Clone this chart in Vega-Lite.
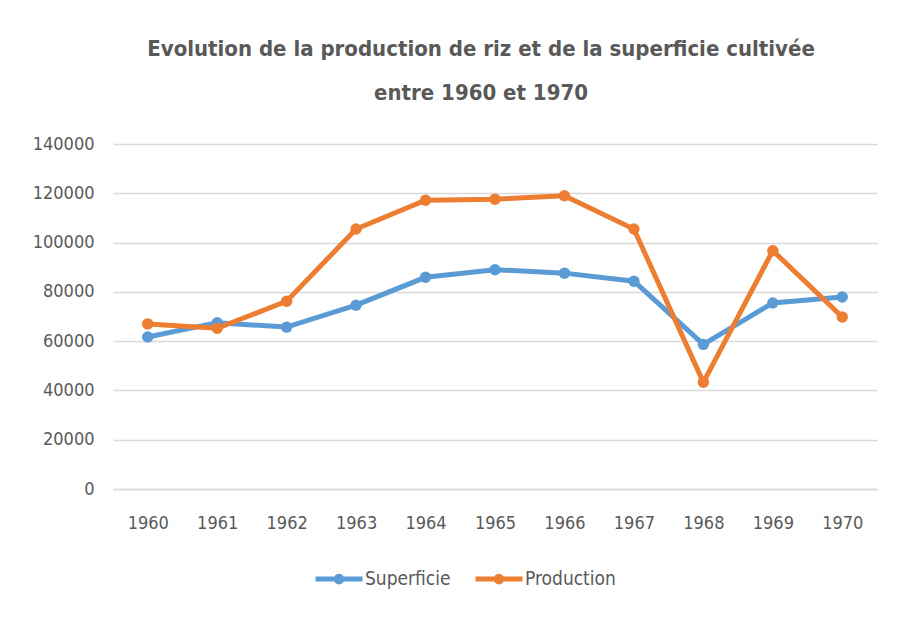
{
  "$schema": "https://vega.github.io/schema/vega-lite/v6.json",
  "width": 764,
  "height": 345,
  "autosize": {"type": "none"},
  "padding": {"left": 113, "top": 144, "right": 20, "bottom": 131},
  "background": "white",
  "title": {
    "text": ["Evolution de la production de riz et de la superficie cultivée", "entre 1960 et 1970"],
    "font": "Liberation Sans Narrow, DejaVu Sans Condensed, Roboto",
    "fontSize": 22,
    "fontWeight": "bold",
    "color": "#595959",
    "lineHeight": 44,
    "anchor": "middle",
    "baseline": "alphabetic",
    "offset": 13,
    "dx": -14
  },
  "data": {
    "values": [
      {"year": "1960", "serie": "Superficie", "value": 61700},
      {"year": "1961", "serie": "Superficie", "value": 67500},
      {"year": "1962", "serie": "Superficie", "value": 65700},
      {"year": "1963", "serie": "Superficie", "value": 74600},
      {"year": "1964", "serie": "Superficie", "value": 85900},
      {"year": "1965", "serie": "Superficie", "value": 89000},
      {"year": "1966", "serie": "Superficie", "value": 87600},
      {"year": "1967", "serie": "Superficie", "value": 84300},
      {"year": "1968", "serie": "Superficie", "value": 58700},
      {"year": "1969", "serie": "Superficie", "value": 75500},
      {"year": "1970", "serie": "Superficie", "value": 77900},
      {"year": "1960", "serie": "Production", "value": 67000},
      {"year": "1961", "serie": "Production", "value": 65200},
      {"year": "1962", "serie": "Production", "value": 76200},
      {"year": "1963", "serie": "Production", "value": 105500},
      {"year": "1964", "serie": "Production", "value": 117200},
      {"year": "1965", "serie": "Production", "value": 117600},
      {"year": "1966", "serie": "Production", "value": 119000},
      {"year": "1967", "serie": "Production", "value": 105500},
      {"year": "1968", "serie": "Production", "value": 43300},
      {"year": "1969", "serie": "Production", "value": 96700},
      {"year": "1970", "serie": "Production", "value": 69800}
    ]
  },
  "encoding": {
    "x": {
      "field": "year",
      "type": "ordinal",
      "scale": {"type": "point", "padding": 0.5},
      "axis": {
        "title": null,
        "labelAngle": 0,
        "ticks": false,
        "tickSize": 0,
        "labelPadding": 25,
        "domainColor": "#D9D9D9",
        "domainWidth": 1.5,
        "labelFont": "Liberation Sans Narrow, DejaVu Sans Condensed, Roboto",
        "labelFontSize": 18,
        "labelColor": "#595959"
      }
    },
    "y": {
      "field": "value",
      "type": "quantitative",
      "scale": {"domain": [0, 140000], "nice": false},
      "axis": {
        "title": null,
        "values": [0, 20000, 40000, 60000, 80000, 100000, 120000, 140000],
        "format": "d",
        "domain": false,
        "ticks": false,
        "tickSize": 0,
        "labelPadding": 19,
        "gridColor": "#D9D9D9",
        "gridWidth": 1.5,
        "labelFont": "Liberation Sans Narrow, DejaVu Sans Condensed, Roboto",
        "labelFontSize": 18,
        "labelColor": "#595959"
      }
    },
    "color": {
      "field": "serie",
      "type": "nominal",
      "scale": {"domain": ["Superficie", "Production"], "range": ["#5B9BD5", "#ED7D31"]},
      "legend": {
        "title": null,
        "orient": "none",
        "direction": "horizontal",
        "legendX": 200,
        "legendY": 409,
        "symbolType": "M-1,0L1,0M-0.12,0A0.12,0.12 0 1,1 0.12,0A0.12,0.12 0 1,1 -0.12,0",
        "symbolSize": 2209,
        "symbolStrokeWidth": 5,
        "labelFont": "Liberation Sans Narrow, DejaVu Sans Condensed, Roboto",
        "labelFontSize": 19,
        "labelColor": "#595959",
        "labelOffset": 0,
        "columnPadding": 14
      }
    }
  },
  "layer": [
    {
      "transform": [{"filter": "datum.serie === 'Superficie'"}],
      "mark": {"type": "line", "strokeWidth": 5, "point": {"size": 130, "filled": true, "opacity": 1}}
    },
    {
      "transform": [{"filter": "datum.serie === 'Production'"}],
      "mark": {"type": "line", "strokeWidth": 5, "point": {"size": 130, "filled": true, "opacity": 1}}
    }
  ],
  "config": {"view": {"stroke": null}}
}
